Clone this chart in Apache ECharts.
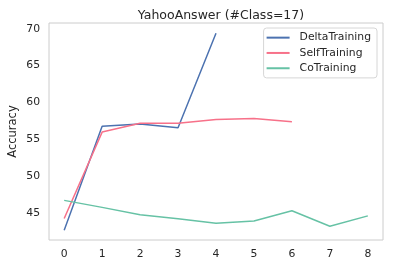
<!DOCTYPE html>
<html>
<head>
<meta charset="utf-8">
<script src="https://cdn.jsdelivr.net/npm/echarts@6/dist/echarts.min.js"></script>
<style>html,body{margin:0;padding:0;background:#fff}#c{width:395px;height:267px}</style>
</head>
<body>
<div id="c"></div>
<script>
const xTicks = [0, 1, 2, 3, 4, 5, 6, 7, 8];
const yTicks = [45, 50, 55, 60, 65, 70];
const deltaTraining = [42.7, 56.8, 57.1, 56.6, 69.4];
const selfTraining = [44.3, 56.0, 57.2, 57.2, 57.7, 57.85, 57.4];
const coTraining = [46.75, 45.8, 44.8, 44.25, 43.65, 43.95, 45.35, 43.25, 44.65];
const seriesNames = ['DeltaTraining', 'SelfTraining', 'CoTraining'];
const colors = ['#4c72b0', '#f77189', '#66c2a5'];

const toPairs = arr => arr.map((v, i) => [xTicks[i], v]);
const font = 'DejaVu Sans';
const txt = '#262626';

const chart = echarts.init(document.getElementById('c'), null, {renderer: 'canvas'});
chart.setOption({
  animation: false,
  textStyle: {fontFamily: font},
  title: {
    text: 'YahooAnswer (#Class=17)', left: 216, textAlign: 'center', top: 4,
    textStyle: {fontFamily: font, fontSize: 12.5, fontWeight: 'normal', color: txt}
  },
  grid: {left: 49, right: 12, top: 23, bottom: 27, show: true, borderColor: '#cccccc', borderWidth: 1,
         containLabel: false, outerBoundsMode: 'none'},
  legend: {
    orient: 'vertical', right: 18, top: 28,
    data: seriesNames,
    icon: 'rect', itemWidth: 23, itemHeight: 2, itemGap: 0,
    padding: [2, 6, 2, 3],
    borderColor: '#d6d6d6', borderWidth: 1, borderRadius: 3,
    backgroundColor: 'rgba(255,255,255,0.8)',
    textStyle: {fontFamily: font, fontSize: 10.8, color: txt, lineHeight: 15.3, padding: [0, 0, 0, 5]}
  },
  xAxis: {
    type: 'value', min: -0.4, max: 8.4,
    axisLine: {show: false}, axisTick: {show: false}, splitLine: {show: false},
    axisLabel: {customValues: xTicks, margin: 9, color: txt, fontSize: 10.8, fontFamily: font}
  },
  yAxis: {
    type: 'value', min: 41.38, max: 70.78,
    name: 'Accuracy', nameLocation: 'middle', nameGap: 30, nameRotate: 90, nameMoveOverlap: false,
    nameTextStyle: {fontFamily: font, fontSize: 11.5, color: txt},
    axisLine: {show: false}, axisTick: {show: false}, splitLine: {show: false},
    axisLabel: {customValues: yTicks, margin: 9, color: txt, fontSize: 10.8, fontFamily: font}
  },
  series: [deltaTraining, selfTraining, coTraining].map((d, i) => ({
    name: seriesNames[i], type: 'line', data: toPairs(d),
    showSymbol: false, symbol: 'none',
    lineStyle: {color: colors[i], width: 1.5},
    itemStyle: {color: colors[i]}
  }))
});
</script>
</body>
</html>
